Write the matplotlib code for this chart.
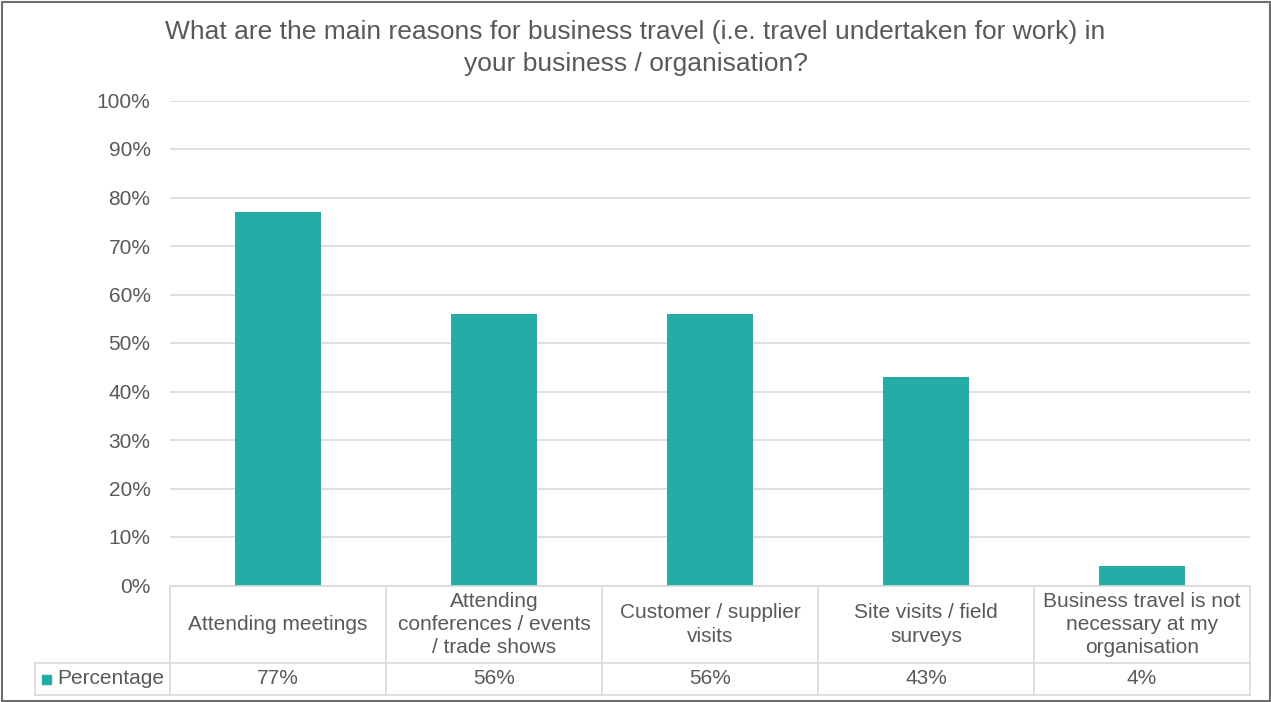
import matplotlib.pyplot as plt
import matplotlib.transforms as mtransforms
from matplotlib.lines import Line2D
from matplotlib.patches import Rectangle

plt.rcParams['font.family'] = ['Liberation Sans', 'DejaVu Sans']

categories = ['Attending meetings',
              'Attending\nconferences / events\n/ trade shows',
              'Customer / supplier\nvisits',
              'Site visits / field\nsurveys',
              'Business travel is not\nnecessary at my\norganisation']
values = [77, 56, 56, 43, 4]
series_name = 'Percentage'
yticks = list(range(0, 101, 10))

BAR = '#26aca7'
TXT = '#595959'
GRID = '#d9d9d9'
FS = 15

W, H = 1271, 702
fig = plt.figure(figsize=(W / 100, H / 100), dpi=100)
ax = fig.add_axes([170 / W, 1 - 585.5 / H, 1080 / W, 485 / H])

x = range(len(categories))
ax.bar(x, [v / 100 for v in values], width=0.4, color=BAR, zorder=3)
ax.set_xlim(-0.5, len(categories) - 0.5)
ax.set_ylim(0, 1)
ax.set_yticks([t / 100 for t in yticks])
ax.set_yticklabels([f'{t}%' for t in yticks], fontsize=FS, color=TXT)
ax.tick_params(axis='y', length=0, pad=14)
ax.set_xticks([])
ax.grid(axis='y', color=GRID, linewidth=1.2, zorder=0)
for s in ax.spines.values():
    s.set_visible(False)

fig.text(0.5, 1 - 48 / H,
         'What are the main reasons for business travel (i.e. travel undertaken for work) in\n'
         'your business / organisation?',
         ha='center', va='center', fontsize=19, color=TXT, linespacing=1.45)

# data table under the axis: x from the data scale, y in figure pixels
tr = mtransforms.blended_transform_factory(ax.transData, fig.transFigure)
def fy(px):
    return 1 - px / H

y_top, y_mid, y_bot = 586, 663, 695
n = len(categories)
lw = 1.2
for yy in (y_top, y_mid, y_bot):
    fig.add_artist(Line2D([-0.5, n - 0.5], [fy(yy)] * 2, transform=tr, color=GRID, lw=lw))
for k in range(n + 1):
    fig.add_artist(Line2D([k - 0.5, k - 0.5], [fy(y_top), fy(y_bot)], transform=tr, color=GRID, lw=lw))

# legend cell on the left of the value row
leg_l = 35 / W
fig.add_artist(Line2D([leg_l, 170 / W], [fy(y_mid)] * 2, color=GRID, lw=lw))
fig.add_artist(Line2D([leg_l, 170 / W], [fy(y_bot)] * 2, color=GRID, lw=lw))
fig.add_artist(Line2D([leg_l, leg_l], [fy(y_mid), fy(y_bot)], color=GRID, lw=lw))
fig.add_artist(Rectangle((42 / W, fy(684)), 9 / W, 9 / H, color=BAR))
fig.text(57 / W, fy((y_mid + y_bot) / 2), series_name, ha='left', va='center',
         fontsize=FS, color=TXT)

for i, (c, v) in enumerate(zip(categories, values)):
    fig.text(i, fy((y_top + y_mid) / 2), c, transform=tr, ha='center', va='center',
             fontsize=FS, color=TXT, linespacing=1.28)
    fig.text(i, fy((y_mid + y_bot) / 2), f'{v}%', transform=tr, ha='center', va='center',
             fontsize=FS, color=TXT)

# outer frame
fig.add_artist(Rectangle((1.5 / W, 1.5 / H), 1 - 3 / W, 1 - 3 / H, fill=False,
                         edgecolor='#6e6e6e', lw=1.5))

fig.savefig('out.png', dpi=100)
